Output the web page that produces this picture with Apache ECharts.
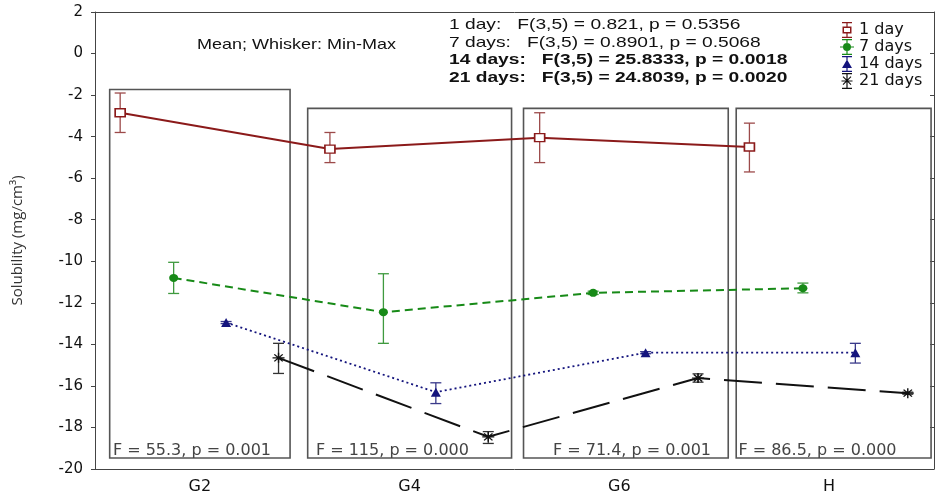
<!DOCTYPE html>
<html>
<head>
<meta charset="utf-8">
<title>Solubility</title>
<script src="https://cdn.jsdelivr.net/npm/echarts@6/dist/echarts.min.js"></script>
<style>
  html, body { margin: 0; padding: 0; background: #fff; }
  #chart { width: 938px; height: 495px; }
</style>
</head>
<body>
<div id="chart"></div>
<script>
// data
const categories = ["G2", "G4", "G6", "H"];
const seriesNames = ["1 day", "7 days", "14 days", "21 days"];

const mean1 = [-2.85, -4.6, -4.05, -4.5];
const min1 = [-3.8, -5.25, -5.25, -5.7];
const max1 = [-1.9, -3.8, -2.85, -3.35];

const mean7 = [-10.8, -12.45, -11.52, -11.3];
const min7 = [-11.55, -13.95, -11.6, -11.52];
const max7 = [-10.05, -10.6, -11.44, -11.05];

const mean14 = [-12.95, -16.3, -14.4, -14.4];
const min14 = [-13.0, -16.85, -14.45, -14.9];
const max14 = [-12.9, -15.85, -14.35, -13.95];

const mean21 = [-14.65, -18.45, -15.62, -16.35];
const min21 = [-15.4, -18.77, -15.82, -16.4];
const max21 = [-13.95, -18.2, -15.42, -16.3];

const yMin = -20, yMax = 2, yStep = 2;

const boxLabels = ["F = 55.3, p = 0.001", "F = 115, p = 0.000", "F = 71.4, p = 0.001", "F = 86.5, p = 0.000"];
const statLines = [
  "1 day:   F(3,5) = 0.821, p = 0.5356",
  "7 days:   F(3,5) = 0.8901, p = 0.5068",
  "14 days:   F(3,5) = 25.8333, p = 0.0018",
  "21 days:   F(3,5) = 24.8039, p = 0.0020"
];
const statBold = [false, false, true, true];

// layout (category units / data units)
const pointOffsets = [-0.38, -0.125, 0.125, 0.375];
const boxLeft = [-0.43, 0.514, 1.543, 2.557];
const boxRight = [0.43, 1.486, 2.519, 3.486];
const boxTop = [-1.73, -2.64, -2.64, -2.64];
const boxBottom = -19.47;
const boxLabelPos = ["insideBottomLeft", "insideBottomLeft", "insideBottomRight", "insideBottomLeft"];
const boxLabelOffset = [[2, 2], [7, 2], [-16, 2], [1, 2]];

const means = [mean1, mean7, mean14, mean21];
const mins = [min1, min7, min14, min21];
const maxs = [max1, max7, max14, max21];

const colors = ["#8b1a1a", "#178a17", "#14147d", "#111111"];
const whiskerColors = ["#9c4a4a", "#3f9a3f", "#3a3a8a", "#333333"];
const lineTypes = ["solid", [8, 5], [2, 3], [38, 14]];
const lineWidths = [2, 2, 1.8, 2];
const star = "path://M0,6L12,6M6,0L6,12M1.8,1.8L10.2,10.2M10.2,1.8L1.8,10.2";
const symbols = ["rect", "circle", "triangle", star];
const symbolSizes = [[10, 8], [9, 8], [10, 9], [12, 10]];

const stem = "M2,0H12V1.3H7.6V14.7H12V16H2V14.7H6.4V1.3H2Z";
const legendIcons = [
  "path://M2,0H12V1.3H7.6V4.5H11.5V11.5H7.6V14.7H12V16H2V14.7H6.4V11.5H2.5V4.5H6.4V1.3H2Z M4,6V10H10V6Z",
  "path://" + stem + " M0,7.4H14V8.6H0Z M7,4A4,4 0 1,1 6.99,4Z",
  "path://" + stem + " M7,3.5L12,12H2Z",
  "path://" + stem + " M1.5,7.4H12.5V8.6H1.5Z M2.6,4L3.4,3.2L11.4,11.2L10.6,12Z M10.6,3.2L11.4,4L3.4,12L2.6,11.2Z"
];

const uiFont = '"DejaVu Sans", sans-serif';
const txtFont = '"Liberation Sans", Arial, sans-serif';

const chart = echarts.init(document.getElementById("chart"));

const series = [];
seriesNames.forEach((name, k) => {
  series.push({
    name: name,
    type: "custom",
    xAxisIndex: 1,
    yAxisIndex: 0,
    z: 2,
    silent: true,
    data: categories.map((c, i) => [i + pointOffsets[k], mins[k][i], maxs[k][i]]),
    encode: { x: 0, y: [1, 2] },
    renderItem: function (params, api) {
      const x = api.value(0);
      const lo = api.coord([x, api.value(1)]);
      const hi = api.coord([x, api.value(2)]);
      const hw = 5.5;
      const st = { stroke: whiskerColors[k], lineWidth: 1.3 };
      return {
        type: "group",
        children: [
          { type: "line", shape: { x1: lo[0], y1: lo[1], x2: hi[0], y2: hi[1] }, style: st },
          { type: "line", shape: { x1: lo[0] - hw, y1: lo[1], x2: lo[0] + hw, y2: lo[1] }, style: st },
          { type: "line", shape: { x1: hi[0] - hw, y1: hi[1], x2: hi[0] + hw, y2: hi[1] }, style: st }
        ]
      };
    }
  });
});

seriesNames.forEach((name, k) => {
  const s = {
    name: name,
    type: "line",
    xAxisIndex: 1,
    yAxisIndex: 0,
    z: 3,
    data: categories.map((c, i) => [i + pointOffsets[k], means[k][i]]),
    symbol: symbols[k],
    symbolSize: symbolSizes[k],
    showAllSymbol: true,
    lineStyle: { color: colors[k], width: lineWidths[k], type: lineTypes[k] },
    itemStyle: k === 0
      ? { color: "#fff", borderColor: colors[k], borderWidth: 1.5 }
      : k === 3
        ? { color: colors[k], borderColor: colors[k], borderWidth: 1.3 }
        : { color: colors[k], borderWidth: 0 },
    emphasis: { disabled: true }
  };
  if (k === 0) {
    s.markArea = {
      silent: true,
      itemStyle: { color: "rgba(0,0,0,0)", borderColor: "#555", borderWidth: 1.6 },
      label: { color: "#444", fontSize: 16, fontFamily: uiFont, distance: 2 },
      data: boxLabels.map((t, i) => [
        { name: t, coord: [boxLeft[i], boxTop[i]], label: { position: boxLabelPos[i], offset: boxLabelOffset[i] } },
        { coord: [boxRight[i], boxBottom] }
      ])
    };
  }
  series.push(s);
});

const axisLine = { show: true, onZero: false, lineStyle: { color: "#444", width: 1 } };

chart.setOption({
  animation: false,
  backgroundColor: "#fff",
  grid: { left: 95, right: 4, top: 12, bottom: 24 },
  legend: {
    orient: "vertical",
    left: 835,
    top: 17,
    itemWidth: 14,
    itemHeight: 16,
    itemGap: 1,
    selectedMode: false,
    textStyle: { fontSize: 16, fontFamily: uiFont, color: "#111" },
    data: seriesNames.map((n, k) => ({ name: n, icon: legendIcons[k], itemStyle: { color: colors[k], borderWidth: 0 } }))
  },
  xAxis: [
    {
      type: "category",
      data: categories,
      position: "bottom",
      boundaryGap: true,
      axisLine: axisLine,
      axisTick: { inside: true, alignWithLabel: true, length: 4, lineStyle: { color: "#444" } },
      axisLabel: { fontSize: 16, fontFamily: uiFont, color: "#111", margin: 10 },
      splitLine: { show: false }
    },
    { type: "value", min: -0.5, max: 3.5, show: false },
    {
      type: "category",
      data: categories,
      position: "top",
      boundaryGap: true,
      axisLine: axisLine,
      axisTick: { inside: true, alignWithLabel: true, length: 4, lineStyle: { color: "#444" } },
      axisLabel: { show: false },
      splitLine: { show: false }
    }
  ],
  yAxis: [
    {
      type: "value",
      min: yMin,
      max: yMax,
      interval: yStep,
      position: "left",
      name: "Solubility (mg/cm\u00b3)",
      nameLocation: "middle",
      nameGap: 70,
      nameTextStyle: { fontFamily: '"Open Sans", sans-serif', fontSize: 15, color: "#333" },
      axisLine: axisLine,
      axisTick: { show: true, length: 4, lineStyle: { color: "#444" } },
      axisLabel: { fontSize: 15, fontFamily: uiFont, color: "#111", margin: 12 },
      splitLine: { show: false }
    },
    {
      type: "value",
      min: yMin,
      max: yMax,
      interval: yStep,
      position: "right",
      axisLine: axisLine,
      axisTick: { show: true, inside: true, length: 4, lineStyle: { color: "#444" } },
      axisLabel: { show: false },
      splitLine: { show: false }
    }
  ],
  graphic: [
    {
      type: "text", x: 197, y: 45, scaleX: 1.2,
      style: { text: "Mean; Whisker: Min-Max", font: "15px " + txtFont, fill: "#111", verticalAlign: "middle" }
    }
  ].concat(statLines.map((t, i) => ({
    type: "text", x: 449, y: 25 + i * 17.5, scaleX: 1.28,
    style: { text: t, font: (statBold[i] ? "bold " : "") + "15px " + txtFont, fill: "#111", verticalAlign: "middle" }
  }))),
  series: series
});
</script>
</body>
</html>
